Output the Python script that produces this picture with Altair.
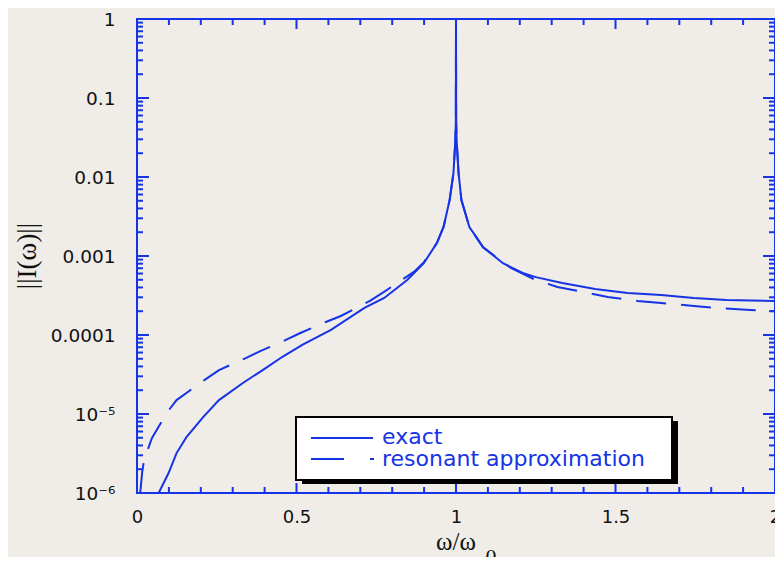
import math
import altair as alt
import pandas as pd

# ---- data ----
exact_x = [0.068, 0.099, 0.124, 0.155, 0.208, 0.257, 0.332, 0.394, 0.456, 0.518, 0.608, 0.713,
           0.775, 0.847, 0.899, 0.940, 0.961, 0.980, 0.992, 0.998, 0.9995, 1.0, 1.0005, 1.002,
           1.008, 1.017, 1.042, 1.085, 1.147, 1.209, 1.25, 1.333, 1.436, 1.538, 1.643, 1.746,
           1.848, 2.0]
exact_y = [1.0e-6, 1.79e-6, 3.2e-6, 5.1e-6, 9.2e-6, 1.5e-5, 2.47e-5, 3.6e-5, 5.3e-5, 7.5e-5,
           1.16e-4, 2.2e-4, 2.94e-4, 4.97e-4, 8.1e-4, 1.46e-3, 2.33e-3, 5.1e-3, 0.0112, 0.029,
           0.05, 1.0, 0.05, 0.029, 0.0112, 5.1e-3, 2.33e-3, 1.3e-3, 8.1e-4, 6.1e-4, 5.4e-4,
           4.55e-4, 3.82e-4, 3.4e-4, 3.2e-4, 2.94e-4, 2.77e-4, 2.69e-4]

res_x = [0.010, 0.016, 0.022, 0.047, 0.093, 0.124, 0.211, 0.257, 0.341, 0.388, 0.465, 0.512,
         0.592, 0.639, 0.729, 0.778, 0.868, 0.899, 0.940, 0.961, 0.980, 0.992, 0.998, 0.9995,
         1.0, 1.0005, 1.002, 1.008, 1.017, 1.042, 1.085, 1.172, 1.25, 1.318, 1.414, 1.476,
         1.569, 1.643, 1.746, 1.817, 1.922, 2.0]
res_y = [1.0e-6, 1.8e-6, 2.6e-6, 4.97e-6, 1.03e-5, 1.5e-5, 2.69e-5, 3.6e-5, 5.1e-5, 6.3e-5,
         8.6e-5, 1.06e-4, 1.46e-4, 1.74e-4, 2.69e-4, 3.6e-4, 6.3e-4, 8.3e-4, 1.46e-3, 2.33e-3,
         5.1e-3, 0.0112, 0.029, 0.05, 1.0, 0.05, 0.029, 0.0112, 5.1e-3, 2.33e-3, 1.28e-3,
         7.05e-4, 4.97e-4, 4.06e-4, 3.4e-4, 3.03e-4, 2.69e-4, 2.54e-4, 2.33e-4, 2.2e-4,
         2.07e-4, 2.0e-4]

y_tick_values = [1, 0.1, 0.01, 0.001, 0.0001, 1e-5, 1e-6]
y_tick_labels = ["1", "0.1", "0.01", "0.001", "0.0001", "10⁻⁵", "10⁻⁶"]
y_minor = [m * 10.0 ** k for k in range(-6, 0) for m in range(2, 10)]
x_tick_values = [0, 0.5, 1, 1.5, 2]
x_minor = [0.1, 0.2, 0.3, 0.4, 0.6, 0.7, 0.8, 0.9, 1.1, 1.2, 1.3, 1.4, 1.6, 1.7, 1.8, 1.9]

legend_labels = ["exact", "resonant approximation"]

BLUE = "#1633e6"
BG = "#f0ece8"
W, H = 638, 474

xs = alt.Scale(domain=[0, 2], nice=False, zero=False)
ys = alt.Scale(type="log", domain=[1e-6, 1], nice=False)

# label expression for y axis
expr = "''"
for v, lab in zip(reversed(y_tick_values), reversed(y_tick_labels)):
    k = round(math.log10(v))
    expr = f"(round(log(datum.value)/LN10) == {k}) ? '{lab}' : ({expr})"

df_exact = pd.DataFrame({"x": exact_x, "y": exact_y})
df_res = pd.DataFrame({"x": res_x, "y": res_y})

base_axes = alt.Chart(pd.DataFrame({"x": [0, 2], "y": [1e-6, 1]})).mark_point(opacity=0).encode(
    x=alt.X("x:Q", scale=xs, axis=alt.Axis(values=x_tick_values, format="~g", title=None,
                                          ticks=False, tickSize=0, domain=False, grid=False,
                                          labelFlush=False, labelPadding=15, labelFontSize=18,
                                          labelFont="DejaVu Sans", labelColor="#111")),
    y=alt.Y("y:Q", scale=ys, axis=alt.Axis(values=y_tick_values, labelExpr=expr, title=None,
                                          ticks=False, tickSize=0, domain=False, grid=False,
                                          labelFlush=False, labelPadding=22, labelFontSize=18.5,
                                          labelFont="DejaVu Sans", labelColor="#111")),
)

exact_line = alt.Chart(df_exact).mark_line(color=BLUE, strokeWidth=2, clip=True).encode(
    x=alt.X("x:Q", scale=xs), y=alt.Y("y:Q", scale=ys), order="x:Q")
res_line = alt.Chart(df_res).mark_line(color=BLUE, strokeWidth=2, strokeDash=[30, 15],
                                       clip=True).encode(
    x=alt.X("x:Q", scale=xs), y=alt.Y("y:Q", scale=ys), order="x:Q")


def yticks(vals, length):
    d = pd.DataFrame({"y": vals})
    left = alt.Chart(d).mark_rule(color=BLUE, strokeWidth=2).encode(
        y=alt.Y("y:Q", scale=ys), x=alt.value(0), x2=alt.value(length))
    right = alt.Chart(d).mark_rule(color=BLUE, strokeWidth=2).encode(
        y=alt.Y("y:Q", scale=ys), x=alt.value(W - length), x2=alt.value(W))
    return left + right


def xticks(vals, length):
    d = pd.DataFrame({"x": vals})
    bottom = alt.Chart(d).mark_rule(color=BLUE, strokeWidth=2).encode(
        x=alt.X("x:Q", scale=xs), y=alt.value(H - length), y2=alt.value(H))
    top = alt.Chart(d).mark_rule(color=BLUE, strokeWidth=2).encode(
        x=alt.X("x:Q", scale=xs), y=alt.value(0), y2=alt.value(length))
    return bottom + top


one = pd.DataFrame({"a": [0]})
shadow = alt.Chart(one).mark_rect(color="black").encode(
    x=alt.value(165), x2=alt.value(541), y=alt.value(402), y2=alt.value(465))
box = alt.Chart(one).mark_rect(fill="white", stroke="black", strokeWidth=2).encode(
    x=alt.value(159), x2=alt.value(535), y=alt.value(398), y2=alt.value(461))
leg_l1 = alt.Chart(one).mark_rule(color=BLUE, strokeWidth=2).encode(
    x=alt.value(174), x2=alt.value(236), y=alt.value(419))
leg_l2 = alt.Chart(one).mark_rule(color=BLUE, strokeWidth=2, strokeDash=[33, 26]).encode(
    x=alt.value(174), x2=alt.value(237), y=alt.value(440))
leg_df = pd.DataFrame({"label": legend_labels, "yy": [425, 447]})
leg_text = alt.Chart(leg_df).mark_text(align="left", baseline="alphabetic", font="DejaVu Sans",
                                       fontSize=22, color=BLUE).encode(
    x=alt.value(245), y=alt.Y("yy:Q", scale=None), text="label:N")

ytitle = alt.Chart(one).mark_text(text="||I(ω)||", angle=270, font="Liberation Serif",
                                  fontSize=27, color="#111", baseline="middle",
                                  align="center").encode(x=alt.value(-109), y=alt.value(237))
xtitle = alt.Chart(one).mark_text(text="ω/ω", font="Liberation Serif", fontSize=25,
                                  color="#111", baseline="middle", align="center").encode(
    x=alt.value(319), y=alt.value(523))
xsub = alt.Chart(one).mark_text(text="0", font="Liberation Serif", fontSize=22,
                                color="#111", baseline="top", align="center").encode(
    x=alt.value(354), y=alt.value(528))

chart = alt.layer(
    base_axes, exact_line, res_line,
    yticks(y_tick_values, 12), yticks(y_minor, 6),
    xticks(x_tick_values, 10), xticks(x_minor, 6),
    shadow, box, leg_l1, leg_l2, leg_text, ytitle, xtitle, xsub,
).properties(
    width=W, height=H,
    autosize=alt.AutoSizeParams(type="none"),
    padding={"left": 129, "top": 11, "right": 0, "bottom": 64},
    background=BG,
).configure_view(stroke=BLUE, strokeWidth=2, fill=BG)

chart.save("out.html", embed_options={"renderer": "svg", "actions": False})
